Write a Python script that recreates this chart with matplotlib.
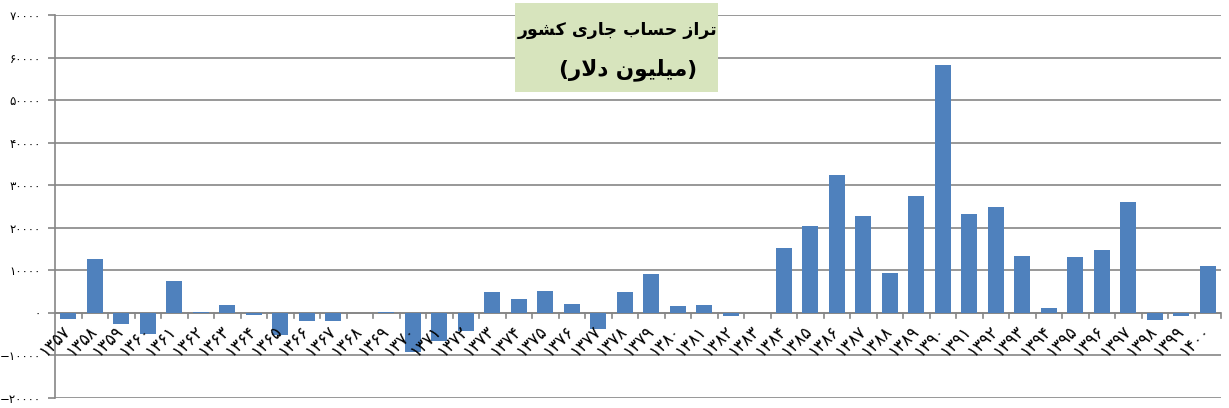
import matplotlib
matplotlib.use('Agg')
import matplotlib.pyplot as plt
from matplotlib.patches import Rectangle

# years 1357..1400 (solar hijri), current account balance in million USD
years = list(range(1357, 1401))
balance = [-1400, 12700, -2700, -4900, 7400, 300, 1950, -400, -5100, -2000,
           -1800, 0, 300, -9250, -6500, -4150, 5000, 3360, 5240, 2190,
           -3900, 5000, 9230, 1720, 1950, -630, 0, 15330, 20500, 32470,
           22840, 9460, 27540, 58290, 23310, 24950, 13450, 1250, 13220, 14860,
           26130, -1570, -630, 11100]
yticks = list(range(-20000, 70001, 10000))
title_line1 = 'ﺭﻮﺸﮐ ﯼﺭﺎﺟ ﺏﺎﺴﺣ ﺯﺍﺮﺗ'   # تراز حساب جاری کشور (pre-shaped)
title_line2 = '(ﺭﻻﺩ ﻥﻮﯿﻠﯿﻣ)'           # (میلیون دلار)

fa_digits = str.maketrans('0123456789-', '۰۱۲۳۴۵۶۷۸۹−')


def fa(n):
    return str(n).translate(fa_digits)


W, H = 1229, 408
fig = plt.figure(figsize=(W / 100, H / 100), dpi=100)
ax = fig.add_axes([55 / W, 1 - 398 / H, (1221 - 55) / W, (398 - 15) / H])

bar_color = '#4F81BD'
grid_color = '#868686'

x = range(len(years))
ax.bar(x, balance, width=0.6, color=bar_color, zorder=3)

ax.set_xlim(-0.5, len(years) - 0.5)
ax.set_ylim(-20000, 70000)
ax.set_yticks(yticks)
ax.set_yticklabels([fa(v) for v in yticks], fontsize=8.5, family='DejaVu Sans')
ax.yaxis.grid(True, color=grid_color, lw=1.2, zorder=0)

for s in ['top', 'right', 'bottom']:
    ax.spines[s].set_visible(False)
ax.spines['left'].set_color(grid_color)
ax.spines['left'].set_linewidth(1.2)
ax.tick_params(axis='y', color=grid_color, length=5, width=1.2, pad=5)

# category boundary ticks on the zero line
ax.set_xticks([])
for i in range(1, len(years) + 1):
    ax.plot([i - 0.5, i - 0.5], [0, -1100], color=grid_color, lw=1.2, zorder=2,
            clip_on=False)
ax.axhline(0, color=grid_color, lw=1.2, zorder=2)

for i, yr in enumerate(years):
    ax.text(i - 0.25, -2000, fa(yr), rotation=45, rotation_mode='anchor',
            ha='right', va='top', fontsize=12, family='DejaVu Sans', zorder=4)

# title box
bx0, bx1, by0, by1 = 515, 718, 3, 92
fig.patches.append(Rectangle((bx0 / W, 1 - by1 / H), (bx1 - bx0) / W, (by1 - by0) / H,
                             transform=fig.transFigure, facecolor='#D7E4BD',
                             edgecolor='none', zorder=5))
fig.text(618 / W, 1 - 30 / H, title_line1, ha='center', va='center', fontsize=12.5,
         fontweight='bold', family='DejaVu Sans', zorder=6)
fig.text(628 / W, 1 - 70 / H, title_line2, ha='center', va='center', fontsize=15.5,
         fontweight='bold', family='DejaVu Sans', zorder=6)

fig.savefig('out.png', dpi=100)
